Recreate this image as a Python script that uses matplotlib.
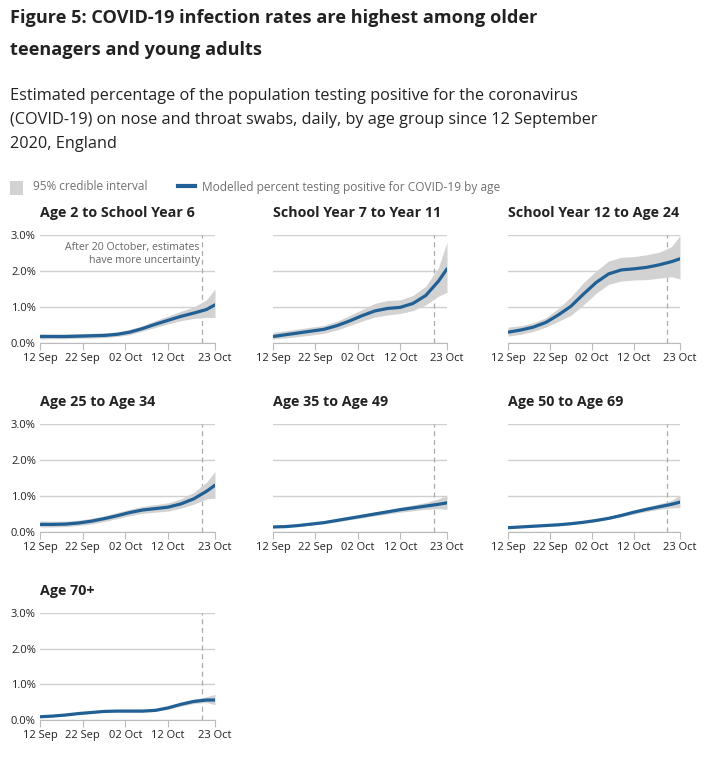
import pandas as pd
import matplotlib.pyplot as plt
from matplotlib.patches import Rectangle
from matplotlib.lines import Line2D

plt.rcParams['font.family'] = ['Open Sans', 'DejaVu Sans']

# sample dates (every third day, plus the last day)
dates = pd.to_datetime(['2020-09-12', '2020-09-15', '2020-09-18', '2020-09-21', '2020-09-24',
                        '2020-09-27', '2020-09-30', '2020-10-03', '2020-10-06', '2020-10-09',
                        '2020-10-12', '2020-10-15', '2020-10-18', '2020-10-21', '2020-10-23'])
tick_dates = pd.to_datetime(['2020-09-12', '2020-09-22', '2020-10-02', '2020-10-12', '2020-10-23'])
tick_labels = ['12 Sep', '22 Sep', '02 Oct', '12 Oct', '23 Oct']
cutoff = pd.Timestamp('2020-10-20')

groups = ['Age 2 to School Year 6', 'School Year 7 to Year 11', 'School Year 12 to Age 24',
          'Age 25 to Age 34', 'Age 35 to Age 49', 'Age 50 to Age 69', 'Age 70+']

mid_y2_y6 = [0.18, 0.18, 0.18, 0.19, 0.20, 0.21, 0.24, 0.30, 0.40, 0.52, 0.63, 0.74, 0.83, 0.93, 1.06]
up_y2_y6 = [0.26, 0.25, 0.25, 0.26, 0.27, 0.28, 0.31, 0.38, 0.48, 0.62, 0.75, 0.88, 1.00, 1.20, 1.50]
low_y2_y6 = [0.11, 0.12, 0.12, 0.13, 0.14, 0.15, 0.18, 0.23, 0.33, 0.43, 0.53, 0.62, 0.68, 0.71, 0.71]

mid_y7_y11 = [0.18, 0.23, 0.28, 0.33, 0.38, 0.48, 0.61, 0.76, 0.89, 0.96, 0.99, 1.10, 1.32, 1.72, 2.06]
up_y7_y11 = [0.30, 0.34, 0.39, 0.44, 0.49, 0.60, 0.76, 0.93, 1.10, 1.18, 1.20, 1.32, 1.58, 2.10, 2.80]
low_y7_y11 = [0.11, 0.14, 0.18, 0.22, 0.27, 0.36, 0.48, 0.61, 0.72, 0.78, 0.82, 0.90, 1.06, 1.30, 1.41]

mid_y12_24 = [0.30, 0.36, 0.44, 0.57, 0.78, 1.02, 1.36, 1.68, 1.92, 2.03, 2.06, 2.10, 2.17, 2.26, 2.34]
up_y12_24 = [0.44, 0.48, 0.56, 0.70, 0.96, 1.28, 1.68, 2.00, 2.28, 2.38, 2.40, 2.45, 2.52, 2.68, 2.98]
low_y12_24 = [0.19, 0.24, 0.32, 0.44, 0.60, 0.77, 1.06, 1.38, 1.63, 1.72, 1.75, 1.76, 1.80, 1.84, 1.78]

mid_25_34 = [0.21, 0.21, 0.22, 0.25, 0.30, 0.37, 0.45, 0.54, 0.61, 0.65, 0.69, 0.78, 0.92, 1.13, 1.30]
up_25_34 = [0.31, 0.30, 0.30, 0.33, 0.38, 0.45, 0.54, 0.63, 0.71, 0.76, 0.81, 0.92, 1.10, 1.38, 1.68]
low_25_34 = [0.14, 0.14, 0.15, 0.18, 0.22, 0.29, 0.37, 0.45, 0.52, 0.55, 0.58, 0.66, 0.77, 0.92, 0.94]

mid_35_49 = [0.14, 0.15, 0.18, 0.22, 0.26, 0.32, 0.38, 0.44, 0.50, 0.56, 0.62, 0.67, 0.72, 0.77, 0.81]
up_35_49 = [0.16, 0.17, 0.20, 0.25, 0.30, 0.36, 0.42, 0.49, 0.56, 0.62, 0.69, 0.75, 0.82, 0.92, 1.03]
low_35_49 = [0.12, 0.13, 0.16, 0.19, 0.23, 0.28, 0.34, 0.39, 0.45, 0.50, 0.55, 0.59, 0.63, 0.65, 0.63]

mid_50_69 = [0.12, 0.14, 0.16, 0.18, 0.20, 0.23, 0.27, 0.32, 0.38, 0.46, 0.55, 0.63, 0.70, 0.77, 0.83]
up_50_69 = [0.14, 0.16, 0.18, 0.20, 0.22, 0.25, 0.30, 0.35, 0.42, 0.50, 0.60, 0.69, 0.78, 0.88, 1.02]
low_50_69 = [0.10, 0.12, 0.14, 0.16, 0.18, 0.21, 0.25, 0.29, 0.35, 0.42, 0.50, 0.57, 0.63, 0.67, 0.68]

mid_70 = [0.09, 0.11, 0.14, 0.18, 0.21, 0.24, 0.25, 0.25, 0.25, 0.27, 0.34, 0.44, 0.52, 0.56, 0.56]
up_70 = [0.11, 0.13, 0.16, 0.20, 0.23, 0.27, 0.28, 0.28, 0.28, 0.30, 0.38, 0.49, 0.58, 0.65, 0.72]
low_70 = [0.07, 0.09, 0.12, 0.16, 0.19, 0.22, 0.22, 0.22, 0.22, 0.24, 0.30, 0.39, 0.46, 0.49, 0.43]

mids = [mid_y2_y6, mid_y7_y11, mid_y12_24, mid_25_34, mid_35_49, mid_50_69, mid_70]
lows = [low_y2_y6, low_y7_y11, low_y12_24, low_25_34, low_35_49, low_50_69, low_70]
ups = [up_y2_y6, up_y7_y11, up_y12_24, up_25_34, up_35_49, up_50_69, up_70]

BLUE = '#206095'
BAND = '#d2d2d2'
GRID = '#d0d0d0'
TEXT = '#222222'

W, H = 715, 772
fig = plt.figure(figsize=(W / 100, H / 100), dpi=100)

# panel boxes in pixels: left, width ; top, bottom
cols = [(40, 175), (273, 174), (508, 172)]
rows = [(235, 343), (424, 532), (613, 720)]

fig.text(10 / W, 1 - 18 / H, 'Figure 5: COVID-19 infection rates are highest among older',
         fontsize=13.1, fontweight='bold', color=TEXT, va='center')
fig.text(10 / W, 1 - 50 / H, 'teenagers and young adults',
         fontsize=13.1, fontweight='bold', color=TEXT, va='center')
subtitle = ['Estimated percentage of the population testing positive for the coronavirus',
            '(COVID-19) on nose and throat swabs, daily, by age group since 12 September',
            '2020, England']
for i, s in enumerate(subtitle):
    fig.text(10 / W, 1 - (96 + 24 * i) / H, s, fontsize=11.7, color=TEXT, va='center')

# legend
fig.patches.append(Rectangle((10 / W, 1 - 195 / H), 13 / W, 14 / H, transform=fig.transFigure,
                             facecolor=BAND, edgecolor='none'))
fig.text(33 / W, 1 - 187 / H, '95% credible interval', fontsize=8.5, color='#707070', va='center')
fig.lines.append(Line2D([178 / W, 195 / W], [1 - 186 / H, 1 - 186 / H], transform=fig.transFigure,
                        color=BLUE, lw=3))
fig.text(202 / W, 1 - 187 / H, 'Modelled percent testing positive for COVID-19 by age',
         fontsize=8.6, color='#707070', va='center')

for k, name in enumerate(groups):
    r, c = divmod(k, 3)
    left, width = cols[c]
    top, bottom = rows[r]
    ax = fig.add_axes([left / W, 1 - bottom / H, width / W, (bottom - top) / H])
    ax.fill_between(dates, lows[k], ups[k], color=BAND, lw=0, zorder=2)
    ax.plot(dates, mids[k], color=BLUE, lw=2.3, zorder=3, solid_capstyle='round')
    ax.axvline(cutoff, color='#aaaaaa', lw=0.9, ls=(0, (4, 3)), zorder=1)
    ax.set_xlim(dates[0], dates[-1])
    ax.set_ylim(0, 3.0)
    ax.set_yticks([0, 1, 2, 3])
    ax.yaxis.grid(True, color=GRID, lw=1, zorder=0)
    ax.set_axisbelow(True)
    for s in ['top', 'right', 'left']:
        ax.spines[s].set_visible(False)
    ax.spines['bottom'].set_color('#bbbbbb')
    ax.set_xticks(tick_dates)
    ax.set_xticklabels(tick_labels)
    ax.tick_params(axis='x', length=5, color='#bbbbbb', labelsize=8, labelcolor=TEXT, pad=2)
    ax.tick_params(axis='y', length=0, labelsize=8, labelcolor=TEXT, pad=3)
    if c == 0:
        ax.set_yticklabels(['0.0%', '1.0%', '2.0%', '3.0%'])
    else:
        ax.set_yticklabels([])
    ax.text(0, 1.0 + 22 / (bottom - top), name, transform=ax.transAxes, fontsize=10.3,
            fontweight='bold', color=TEXT, va='center', ha='left')
    if k == 0:
        ax.text(cutoff - pd.Timedelta(hours=14), 2.47, 'After 20 October, estimates\nhave more uncertainty',
                fontsize=7.6, color='#666666', ha='right', va='center', linespacing=1.15)

fig.savefig('out.png', dpi=100)
